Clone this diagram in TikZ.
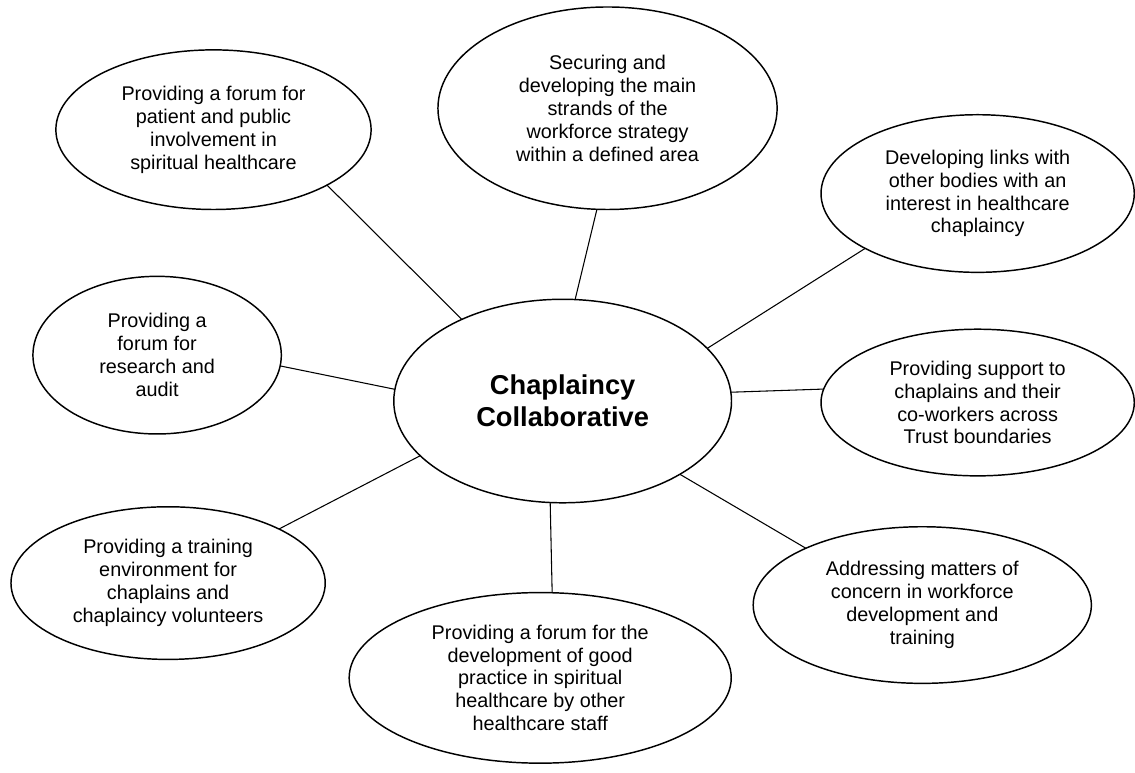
\documentclass[tikz,border=0pt]{standalone}
\usepackage{fontspec}
\setmainfont{Liberation Sans}
\usetikzlibrary{shapes.geometric}

\tikzset{every picture/.style={line width=0.75pt}}
\tikzset{
  bubble/.style={ellipse, draw, line width=1.1pt, inner sep=0pt, outer sep=0pt, align=center,
    font=\fontsize{14.9pt}{17.2pt}\selectfont},
  hub/.style={bubble, font=\fontsize{20.5pt}{24pt}\selectfont\bfseries},
  spoke/.style={line width=0.8pt}
}

\begin{document}
\begin{tikzpicture}[x=0.75pt,y=0.75pt,yscale=-1,xscale=1]
	%set diagram left start at 0, and has height of 774
	\path (0,0) rectangle (1135,774);
	
	%Shape: Ellipse [id:hub] 
	\node (hub) [hub, minimum width=253.9pt, minimum height=153pt] at (564,402) {Chaplaincy\\Collaborative};
	%Shape: Ellipse [id:patient] 
	\node (patient) [bubble, minimum width=237pt, minimum height=120pt] at (214,130) {Providing a forum for\\patient and public\\involvement in\\spiritual healthcare};
	%Shape: Ellipse [id:strategy] 
	\node (strategy) [bubble, minimum width=255pt, minimum height=152.25pt] at (609,108.5) {Securing and\\developing the main\\strands of the\\workforce strategy\\within a defined area};
	%Shape: Ellipse [id:links] 
	\node (links) [bubble, minimum width=235.5pt, minimum height=118.5pt] at (980,194) {Developing links with\\other bodies with an\\interest in healthcare\\chaplaincy};
	%Shape: Ellipse [id:research] 
	\node (research) [bubble, minimum width=186.75pt, minimum height=118.5pt] at (157.5,356) {Providing a\\forum for\\research and\\audit};
	%Shape: Ellipse [id:support] 
	\node (support) [bubble, minimum width=235.5pt, minimum height=110.25pt] at (980,403.5) {Providing support to\\chaplains and their\\co-workers across\\Trust boundaries};
	%Shape: Ellipse [id:training] 
	\node (training) [bubble, minimum width=236.25pt, minimum height=114.75pt] at (168.5,584.5) {Providing a training\\environment for\\chaplains and\\chaplaincy volunteers};
	%Shape: Ellipse [id:practice] 
	\node (practice) [bubble, minimum width=287.25pt, minimum height=128.25pt] at (541.5,679.5) {Providing a forum for the\\development of good\\practice in spiritual\\healthcare by other\\healthcare staff};
	%Shape: Ellipse [id:concern] 
	\node (concern) [bubble, minimum width=254.25pt, minimum height=117.75pt] at (924.5,606.5) {Addressing matters of\\concern in workforce\\development and\\training};
	
	%Straight Lines [id:spokes] 
	\draw [spoke] (patient.-26.8) -- (hub.141.9) ;
	\draw [spoke] (strategy.-96.2) -- (hub.83.8) ;
	\draw [spoke] (links.206.2) -- (hub.20.9) ;
	\draw [spoke] (research.-5.5) -- (hub.176.3) ;
	\draw [spoke] (hub.3.7) -- (support.175.4) ;
	\draw [spoke] (training.26.9) -- (hub.201.3) ;
	\draw [spoke] (hub.263.8) -- (practice.82.3) ;
	\draw [spoke] (hub.-32.2) -- (concern.154.9) ;
	
\end{tikzpicture}
\end{document}
